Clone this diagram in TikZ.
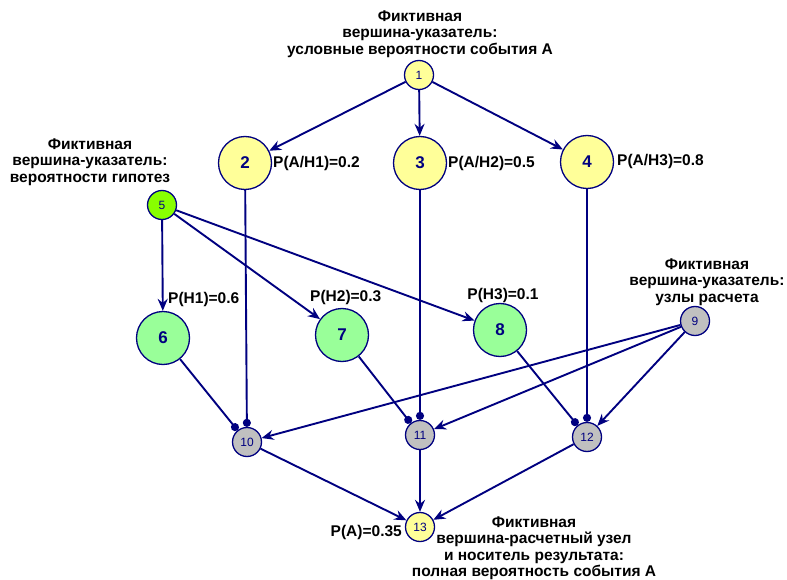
\documentclass[tikz,border=0pt]{standalone}
\usepackage{fontspec}
\setmainfont{Liberation Sans}
\usetikzlibrary{arrows.meta}
\definecolor{navy}{HTML}{000080}
\definecolor{ylw}{HTML}{FFFF99}
\definecolor{grn}{HTML}{99FF99}
\definecolor{lime}{HTML}{88FF00}
\definecolor{gry}{HTML}{C0C0C0}
\tikzset{
  vbase/.style={circle, draw=navy, line width=1.3pt, inner sep=0pt, text=navy},
  big/.style={vbase, minimum size=53pt, font=\fontsize{17}{17}\selectfont\bfseries},
  small/.style={vbase, minimum size=29pt, font=\fontsize{12}{12}\selectfont},
  lbl/.style={font=\fontsize{15.5}{16.5}\selectfont\bfseries, inner sep=0pt, align=center},
  edge/.style={draw=navy, line width=1.9pt, -{Stealth[length=12pt, width=10pt, inset=4pt]}},
  dotedge/.style={draw=navy, line width=1.9pt, -{Circle[length=8pt]}},
}
\begin{document}
\begin{tikzpicture}[x=1pt,y=-1pt]
\useasboundingbox (0,0) rectangle (787,580);
\fill[white] (0,0) rectangle (787,580);
% nodes
\node[small, fill=ylw] (n1) at (419,75) {1};
\node[big, fill=ylw] (n2) at (245,163) {2};
\node[big, fill=ylw] (n3) at (420,163) {3};
\node[big, fill=ylw] (n4) at (587,162) {4};
\node[small, fill=lime] (n5) at (162,205) {5};
\node[big, fill=grn] (n6) at (163,338) {6};
\node[big, fill=grn] (n7) at (342,335) {7};
\node[big, fill=grn] (n8) at (500,330) {8};
\node[small, fill=gry] (n9) at (695,321) {9};
\node[small, fill=gry] (n10) at (247,442) {10};
\node[small, fill=gry] (n11) at (420,435) {11};
\node[small, fill=gry] (n12) at (587,437) {12};
\node[small, fill=ylw] (n13) at (420,527) {13};
% edges
\draw[edge] (n1) -- (n2);
\draw[edge] (n1) -- (n3);
\draw[edge] (n1) -- (n4);
\draw[edge] (n5) -- (n6);
\draw[edge] (n5) -- (n7);
\draw[edge] (n5) -- (n8);
\draw[dotedge] (n2) -- (n10);
\draw[dotedge] (n3) -- (n11);
\draw[dotedge] (n4) -- (n12);
\draw[dotedge] (n6) -- (n10);
\draw[dotedge] (n7) -- (n11);
\draw[dotedge] (n8) -- (n12);
\draw[edge] (n9) -- (n10);
\draw[edge] (n9) -- (n11);
\draw[edge] (n9) -- (n12);
\draw[edge] (n10) -- (n13);
\draw[edge] (n11) -- (n13);
\draw[edge] (n12) -- (n13);
% labels
\node[lbl] (t1) at (420,34) {Фиктивная\\вершина-указатель:\\условные вероятности события А};
\node[lbl] (t5) at (90,162) {Фиктивная\\вершина-указатель:\\вероятности гипотез};
\node[lbl] (t9) at (707,282) {Фиктивная\\вершина-указатель:\\узлы расчета};
\node[lbl] (t13) at (534,548) {Фиктивная\\вершина-расчетный узел\\и носитель результата:\\полная вероятность события А};
\node[lbl, anchor=west] (p2) at (273,163) {P(A/H1)=0.2};
\node[lbl, anchor=west] (p3) at (448,163) {P(A/H2)=0.5};
\node[lbl, anchor=west] (p4) at (617,161) {P(A/H3)=0.8};
\node[lbl, anchor=west] (p6) at (168,299) {P(H1)=0.6};
\node[lbl, anchor=west] (p7) at (310,297) {P(H2)=0.3};
\node[lbl] (p8) at (503,295) {P(H3)=0.1};
\node[lbl, anchor=east] (p13) at (402,532) {P(A)=0.35};
\end{tikzpicture}
\end{document}
